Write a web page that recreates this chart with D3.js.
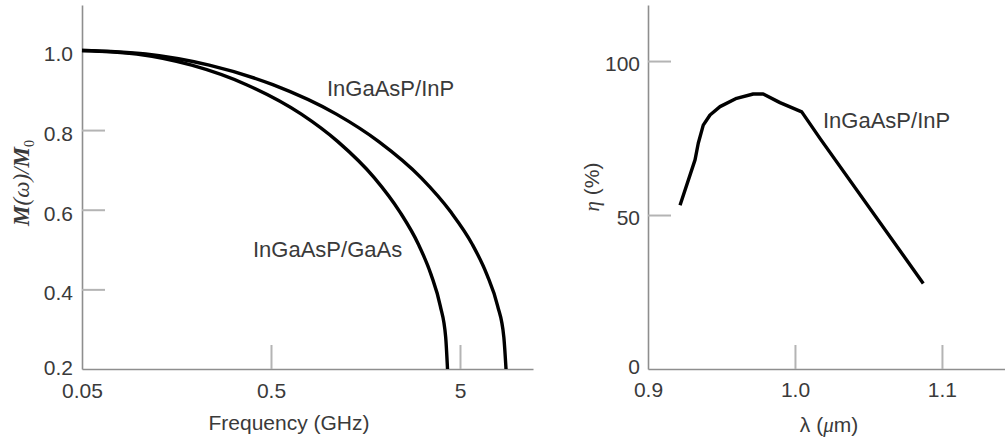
<!DOCTYPE html>
<html>
<head>
<meta charset="utf-8">
<script src="https://cdn.jsdelivr.net/npm/d3@7"></script>
<style>
  html, body { margin: 0; padding: 0; background: #fff; }
  svg { display: block; }
  text { font-family: "Liberation Sans", Arial, sans-serif; fill: #3a3a3a; }
</style>
</head>
<body>
<svg id="fig" width="1005" height="442"></svg>
<script>
// Left panel: normalised modulation response M(ω)/M0 vs frequency (GHz, log axis)
const freqTicks = [0.05, 0.5, 5];
const respTicks = [0.2, 0.4, 0.6, 0.8, 1.0];
const inpFreq = [0.05, 0.1085, 0.2355, 0.511, 1.109, 1.859, 3.117, 4.475, 5.795, 6.94, 7.90, 8.53, 8.76];
const inpResp = [1.0, 0.991, 0.963, 0.914, 0.840, 0.771, 0.680, 0.594, 0.514, 0.437, 0.359, 0.280, 0.2];
const gaasFreq = [0.05, 0.0975, 0.1902, 0.371, 0.7235, 1.129, 1.762, 2.407, 3.007, 3.515, 3.929, 4.200, 4.295];
const gaasResp = [1.0, 0.991, 0.963, 0.914, 0.840, 0.771, 0.680, 0.594, 0.514, 0.437, 0.359, 0.280, 0.2];

// Right panel: quantum efficiency η (%) vs wavelength λ (µm)
const lambdaTicks = [0.9, 1.0, 1.1];
const etaTicks = [0, 50, 100];
const lambdaVals = [0.9218, 0.932, 0.9342, 0.9376, 0.9422, 0.949, 0.9603, 0.9716, 0.9784, 0.9898, 1.0046, 1.017, 1.0873];
const etaVals = [53.2, 67.9, 73.3, 79.2, 82.5, 85.2, 87.9, 89.3, 89.3, 86.5, 83.5, 74.9, 27.8];

const svg = d3.select("#fig");
const axisColor = "#8e8e8e";
const tickColor = "#b4b4b4";
const fontSize = 21;

function styleAxis(g) {
  g.select(".domain").attr("stroke", axisColor).attr("stroke-width", 1.6);
  g.selectAll(".tick line").attr("stroke", tickColor).attr("stroke-width", 2);
  g.selectAll(".tick text").attr("font-size", fontSize).attr("fill", "#3a3a3a")
    .attr("font-family", '"Liberation Sans", Arial, sans-serif');
  // the first tick sits on the other axis line, so only its label is kept
  g.selectAll(".tick line").filter((d, i) => i === 0).remove();
}

// ---------- left panel ----------
const xL = d3.scaleLog().domain([0.05, 12.17]).range([82, 533]);
const yL = d3.scaleLinear().domain([0.2, 1.1141]).range([369, 5]);

const gLy = svg.append("g").attr("transform", "translate(82,0)")
  .call(d3.axisLeft(yL).tickValues(respTicks).tickFormat(d3.format(".1f"))
    .tickSizeInner(-23).tickSizeOuter(0).tickPadding(9));
styleAxis(gLy);
gLy.selectAll(".tick text").attr("dy", (d, i) => i === 0 ? "0.28em" : "0.5em");

const gLx = svg.append("g").attr("transform", "translate(0,369)")
  .call(d3.axisBottom(xL).tickValues(freqTicks).tickFormat(d => String(d))
    .tickSizeInner(-24).tickSizeOuter(0).tickPadding(14));
styleAxis(gLx);

const lineL = d3.line().x(d => xL(d[0])).y(d => yL(d[1])).curve(d3.curveMonotoneX);
[[inpFreq, inpResp], [gaasFreq, gaasResp]].forEach(([f, m]) => {
  svg.append("path")
    .attr("d", lineL(d3.zip(f, m)))
    .attr("fill", "none").attr("stroke", "#000").attr("stroke-width", 3.4)
    .attr("stroke-linejoin", "round");
});

svg.append("text").attr("x", 327).attr("y", 96).attr("font-size", 22).text("InGaAsP/InP");
svg.append("text").attr("x", 253).attr("y", 257).attr("font-size", 22).text("InGaAsP/GaAs");

svg.append("text").attr("x", 289).attr("y", 430).attr("text-anchor", "middle")
  .attr("font-size", fontSize).text("Frequency (GHz)");

const yLab = svg.append("text")
  .attr("transform", "translate(29,183) rotate(-90)")
  .attr("text-anchor", "middle")
  .style("font-family", '"Liberation Serif", "Times New Roman", serif')
  .style("font-style", "italic")
  .attr("font-size", 23).attr("fill", "#222");
yLab.append("tspan").attr("font-weight", "bold").text("M");
yLab.append("tspan").text("(ω)/");
yLab.append("tspan").attr("font-weight", "bold").text("M");
yLab.append("tspan").attr("dy", 5).attr("font-size", 14).style("font-style", "normal").text("0");

// ---------- right panel ----------
const xR = d3.scaleLinear().domain([0.9, 1.1429]).range([648, 1005]);
const yR = d3.scaleLinear().domain([0, 118.2]).range([369, 5]);

const gRy = svg.append("g").attr("transform", "translate(648,0)")
  .call(d3.axisLeft(yR).tickValues(etaTicks).tickFormat(d3.format("d"))
    .tickSizeInner(-23).tickSizeOuter(0).tickPadding(8));
styleAxis(gRy);
gRy.selectAll(".tick text").attr("dy", (d, i) => i === 0 ? "0.22em" : "0.45em");

const gRx = svg.append("g").attr("transform", "translate(0,369)")
  .call(d3.axisBottom(xR).tickValues(lambdaTicks).tickFormat(d3.format(".1f"))
    .tickSizeInner(-24).tickSizeOuter(0).tickPadding(13));
styleAxis(gRx);

const lineR = d3.line().x(d => xR(d[0])).y(d => yR(d[1])).curve(d3.curveLinear);
svg.append("path")
  .attr("d", lineR(d3.zip(lambdaVals, etaVals)))
  .attr("fill", "none").attr("stroke", "#000").attr("stroke-width", 3.4)
  .attr("stroke-linejoin", "round");

svg.append("text").attr("x", 823).attr("y", 128).attr("font-size", 22).text("InGaAsP/InP");

const lamLab = svg.append("text").attr("x", 829).attr("y", 432).attr("text-anchor", "middle")
  .attr("font-size", fontSize);
lamLab.append("tspan").text("λ (");
lamLab.append("tspan").style("font-family", '"Liberation Serif", serif').style("font-style", "italic").text("μ");
lamLab.append("tspan").text("m)");

svg.append("text")
  .attr("transform", "translate(599,187) rotate(-90)")
  .attr("text-anchor", "middle").attr("font-size", fontSize)
  .call(t => {
    t.append("tspan").style("font-family", '"Liberation Serif", serif').style("font-style", "italic").text("η");
    t.append("tspan").text(" (%)");
  });
</script>
</body>
</html>
